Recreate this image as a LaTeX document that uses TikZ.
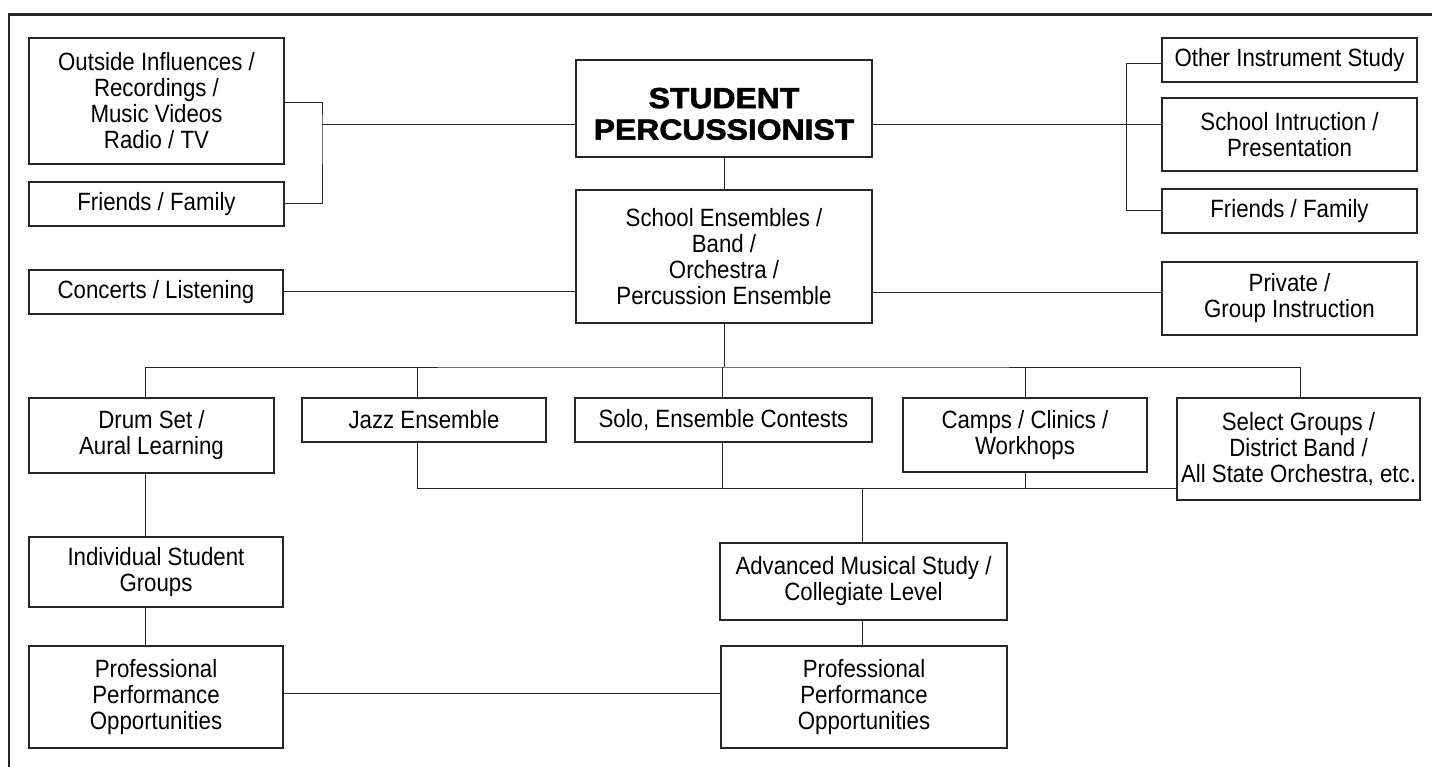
\documentclass[tikz,border=0pt]{standalone}
\usepackage{fontspec}
\setmainfont{Liberation Sans}[FakeStretch=0.89]
\newfontfamily\heavyfont{Liberation Sans}[FakeStretch=1.1, BoldFeatures={FakeBold=2}]
\begin{document}
\begin{tikzpicture}[x=1pt,y=-1pt,
  box/.style={draw=black!85, line width=1.3pt, inner sep=0pt, align=center,
    font=\fontsize{25}{26}\selectfont},
  title/.style={font=\heavyfont\bfseries\fontsize{29}{31.5}\selectfont},
  conn/.style={draw=black!85, line width=1pt},
  frame/.style={draw=black!85, line width=2.6pt}]
\useasboundingbox (0,0) rectangle (1432,767);
\fill[white] (0,0) rectangle (1432,767);
\draw[frame] (9,767) -- (9,14.5) -- (1432,14.5);

% left column top
\node[box, minimum width=255pt, minimum height=126pt] (out) at (156.5,101) {Outside Influences /\\Recordings /\\Music Videos\\Radio / TV};
\node[box, minimum width=255pt, minimum height=44pt] (ffl) at (156.5,204) {Friends / Family};
\node[box, minimum width=254pt, minimum height=44pt] (con) at (156,292) {Concerts / Listening};

% centre
\node[box, title, minimum width=296pt, minimum height=97pt] (stu) at (724,108.5) {\rule{0pt}{31pt}STUDENT\\PERCUSSIONIST};
\node[box, minimum width=296pt, minimum height=133pt] (sch) at (724,256.5) {School Ensembles /\\Band /\\Orchestra /\\Percussion Ensemble};

% right column
\node[box, minimum width=255pt, minimum height=44pt] (oth) at (1289.5,60) {Other Instrument Study};
\node[box, minimum width=255pt, minimum height=73pt] (sip) at (1289.5,134.5) {School Intruction /\\Presentation};
\node[box, minimum width=255pt, minimum height=44pt] (ffr) at (1289.5,211) {Friends / Family};
\node[box, minimum width=255pt, minimum height=73pt] (prv) at (1289.5,298.5) {Private /\\Group Instruction};

% second tier
\node[box, minimum width=245pt, minimum height=75pt] (drm) at (151.5,435.5) {Drum Set /\\Aural Learning};
\node[box, minimum width=244pt, minimum height=44pt] (jaz) at (424,420) {Jazz Ensemble};
\node[box, minimum width=297pt, minimum height=44pt] (sol) at (723.5,420) {Solo, Ensemble Contests};
\node[box, minimum width=244pt, minimum height=74pt] (cmp) at (1025,435) {Camps / Clinics /\\Workhops};
\node[box, minimum width=243pt, minimum height=102pt] (sel) at (1298.5,449) {Select Groups /\\District Band /\\All State Orchestra, etc.};

% lower tier
\node[box, minimum width=254pt, minimum height=70pt] (ind) at (156,572) {Individual Student\\Groups};
\node[box, minimum width=287pt, minimum height=77pt] (adv) at (863.5,581.5) {Advanced Musical Study /\\Collegiate Level};
\node[box, minimum width=254pt, minimum height=102pt] (ppl) at (156,697) {Professional\\Performance\\Opportunities};
\node[box, minimum width=286pt, minimum height=102pt] (ppr) at (864,697) {Professional\\Performance\\Opportunities};

% connectors top
\coordinate (lb) at (322,125);
\coordinate (rb) at (1126,125);
\draw[conn] (out.east |- 0,103) -| (lb) |- (ffl.east);
\draw[conn] (lb) -- (stu.west |- lb);
\draw[conn] (oth.west |- 0,64) -| (rb) |- (ffr.west);
\draw[conn] (stu.east |- rb) -- (sip.west |- rb);
\draw[conn] (stu.south) -- (sch.north);
\draw[conn] (con.east) -- (sch.west |- con.east);
\draw[conn] (sch.east |- 0,293) -- (prv.west |- 0,293);

% branch
\coordinate (br) at (724,367);
\draw[conn] (sch.south) -- (br);
\draw[conn] (drm.north -| 145,0) |- (br) -| (sel.north -| 1300,0);
\draw[conn] (jaz.north -| 417,0) -- (417,367);
\draw[conn] (sol.north -| 722,0) -- (722,367);
\draw[conn] (cmp.north) -- (cmp.north |- br);

% lower joins
\coordinate (lo) at (862,488);
\draw[conn] (jaz.south -| 417,0) |- (sel.west |- lo);
\draw[conn] (sol.south -| 722,0) -- (722,488);
\draw[conn] (cmp.south) -- (cmp.south |- lo);
\draw[conn] (lo) -- (adv.north -| lo);
\draw[conn] (drm.south -| 145,0) -- (ind.north -| 145,0);
\draw[conn] (ind.south -| 145,0) -- (ppl.north -| 145,0);
\draw[conn] (adv.south -| 862,0) -- (ppr.north -| 862,0);
\draw[conn] (ppl.east |- 0,693) -- (ppr.west |- 0,693);
\end{tikzpicture}
\end{document}
